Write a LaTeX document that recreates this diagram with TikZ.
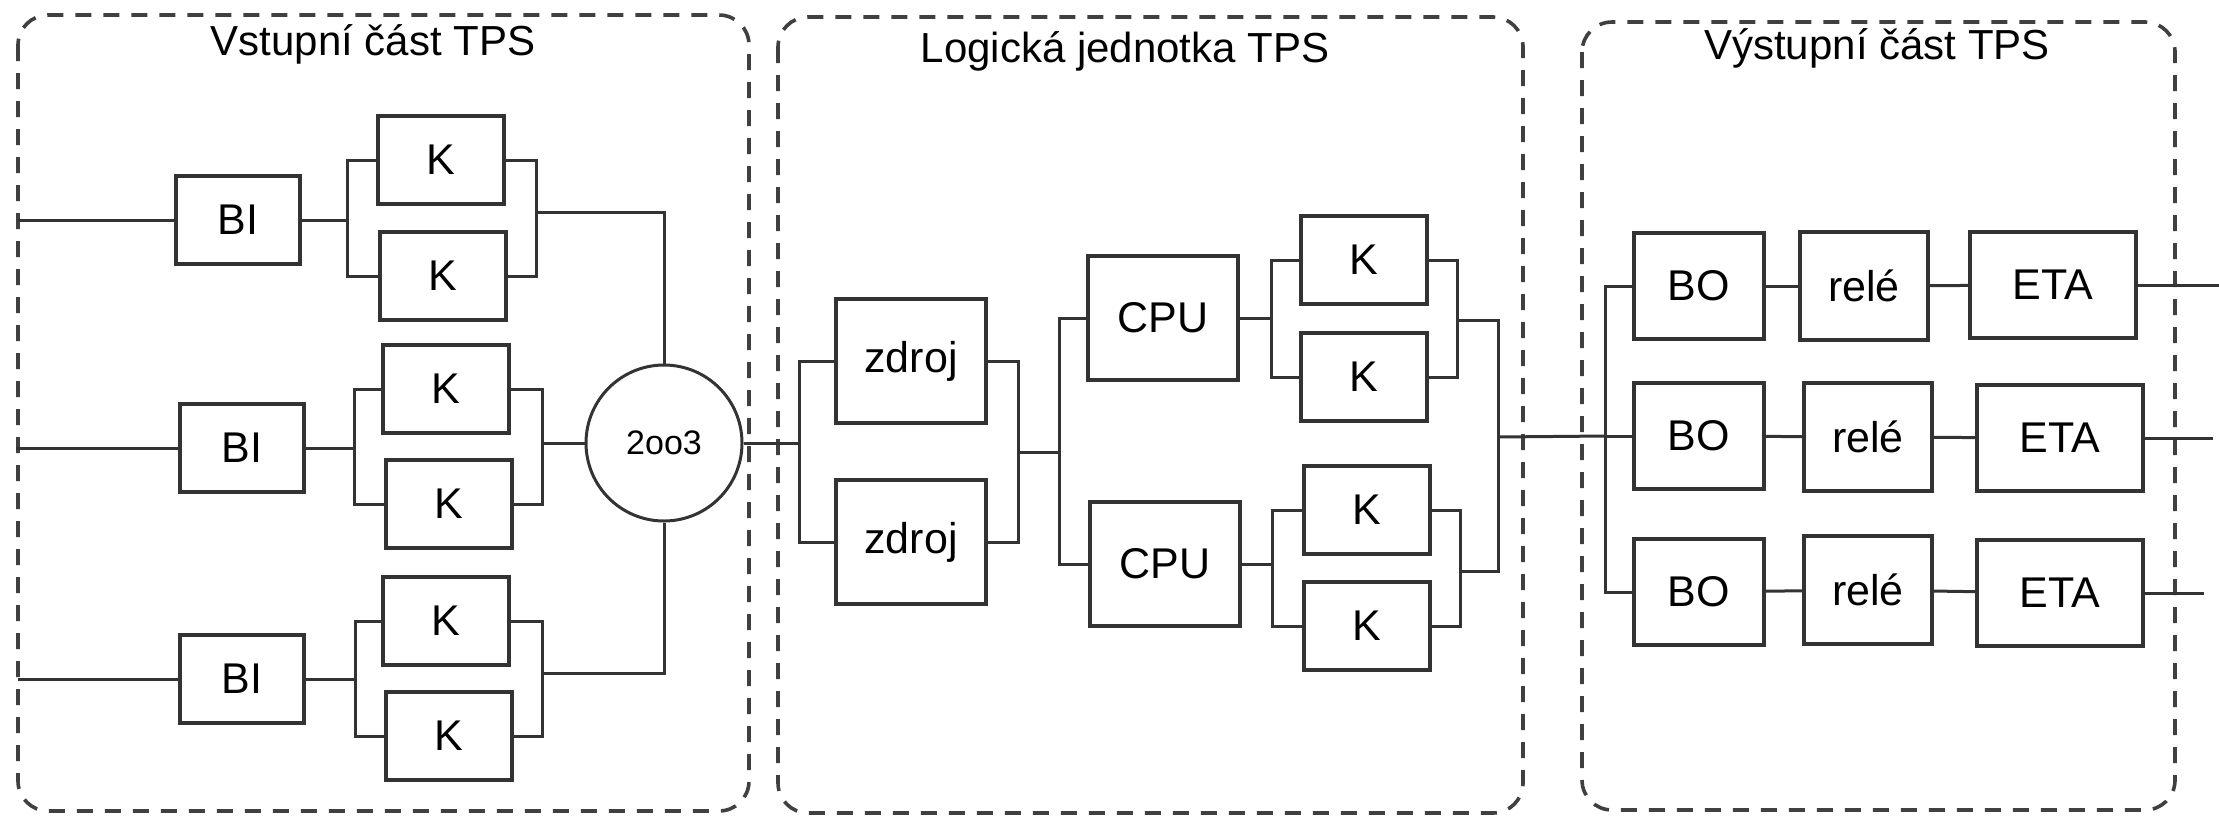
\documentclass[tikz,border=0pt]{standalone}
\usepackage{fontspec}
\setmainfont{Liberation Sans}
\begin{document}
\begin{tikzpicture}[x=0.5pt,y=-0.5pt,
  blk/.style={draw=black!80, line width=1.7pt, fill=white, inner sep=0pt, font=\fontsize{21.5}{24}\selectfont},
  kbox/.style={blk, minimum width=63pt, minimum height=44pt},
  bibox/.style={blk, minimum width=62pt, minimum height=44pt},
  bigbox/.style={blk, minimum width=75pt, minimum height=62pt},
  bobox/.style={blk, minimum width=65pt, minimum height=53pt},
  relebox/.style={blk, minimum width=64pt, minimum height=54pt},
  etabox/.style={blk, minimum width=83pt, minimum height=53pt},
  votebox/.style={draw=black!80, line width=1.5pt, circle, fill=white, inner sep=0pt, minimum size=78pt, font=\fontsize{17}{20}\selectfont},
  wire/.style={draw=black!80, line width=1.5pt},
  group/.style={draw=black!75, line width=1.8pt, dash pattern=on 8pt off 6pt, rounded corners=15pt},
  ttl/.style={inner sep=0pt, font=\fontsize{21}{24}\selectfont}
]
\useasboundingbox (0,0) rectangle (2219,815);

% groups
\draw[group] (18,15) rectangle (749,811);
\draw[group] (778,17) rectangle (1523,813);
\draw[group] (1582,22) rectangle (2175,810);
\node[ttl] (t1) at (373,44) {Vstupní část TPS};
\node[ttl] (t2) at (1125,51) {Logická jednotka TPS};
\node[ttl] (t3) at (1877,48) {Výstupní část TPS};

% input part
\node[bibox] (BI1) at (238,220) {BI};
\node[bibox] (BI2) at (242,448) {BI};
\node[bibox] (BI3) at (242,679) {BI};
\node[kbox] (K1) at (441,160) {K};
\node[kbox] (K2) at (443,276) {K};
\node[kbox] (K3) at (446,389) {K};
\node[kbox] (K4) at (449,504) {K};
\node[kbox] (K5) at (446,621) {K};
\node[kbox] (K6) at (449,736) {K};
\node[votebox] (C) at (664,443) {2oo3};

\coordinate (in1) at (18,220);
\coordinate (in2) at (16,448);
\coordinate (in3) at (18,679);
\coordinate (b1l) at (347,220);
\coordinate (b2l) at (354,448);
\coordinate (b3l) at (355,679);
\coordinate (b1r) at (536,212);
\coordinate (b2r) at (542,443);
\coordinate (b3r) at (542,673);

\draw[wire] (in1) -- (BI1);
\draw[wire] (in2) -- (BI2);
\draw[wire] (in3) -- (BI3);
\draw[wire] (BI1) -- (b1l);
\draw[wire] (BI2) -- (b2l);
\draw[wire] (BI3) -- (b3l);
\draw[wire] (K1.west) -| (b1l) |- (K2.west);
\draw[wire] (K3.west) -| (b2l) |- (K4.west);
\draw[wire] (K5.west) -| (b3l) |- (K6.west);
\draw[wire] (K1.east) -| (b1r) |- (K2.east);
\draw[wire] (K3.east) -| (b2r) |- (K4.east);
\draw[wire] (K5.east) -| (b3r) |- (K6.east);
\draw[wire] (b1r) -| (C.north);
\draw[wire] (b2r) -- (C.west);
\draw[wire] (b3r) -| (C.south);

% logic unit
\node[bigbox] (Z1) at (911,361) {zdroj};
\node[bigbox] (Z2) at (911,542) {zdroj};
\node[bigbox] (CPU1) at (1163,318) {CPU};
\node[bigbox] (CPU2) at (1165,564) {CPU};
\node[kbox] (K7) at (1364,260) {K};
\node[kbox] (K8) at (1364,377) {K};
\node[kbox] (K9) at (1367,510) {K};
\node[kbox] (K10) at (1367,626) {K};

\coordinate (zl) at (799,443);
\coordinate (zr) at (1018,452);
\coordinate (cl) at (1059,452);
\coordinate (k1l) at (1271,318);
\coordinate (k2l) at (1272,564);
\coordinate (k1r) at (1457,320);
\coordinate (k2r) at (1460,571);
\coordinate (ol) at (1498,437);

\draw[wire] (C.east) -- (zl);
\draw[wire] (Z1.west) -| (zl) |- (Z2.west);
\draw[wire] (Z1.east) -| (zr) |- (Z2.east);
\draw[wire] (zr) -- (cl);
\draw[wire] (CPU1.west) -| (cl) |- (CPU2.west);
\draw[wire] (CPU1) -- (k1l);
\draw[wire] (CPU2) -- (k2l);
\draw[wire] (K7.west) -| (k1l) |- (K8.west);
\draw[wire] (K9.west) -| (k2l) |- (K10.west);
\draw[wire] (K7.east) -| (k1r) |- (K8.east);
\draw[wire] (K9.east) -| (k2r) |- (K10.east);
\draw[wire] (k1r) -| (ol);
\draw[wire] (k2r) -| (ol);

% output part
\node[bobox] (BO1) at (1699,286) {BO};
\node[bobox] (BO2) at (1699,436) {BO};
\node[bobox] (BO3) at (1699,592) {BO};
\node[relebox] (R1) at (1864,286) {relé};
\node[relebox] (R2) at (1868,437) {relé};
\node[relebox] (R3) at (1868,590) {relé};
\node[etabox] (E1) at (2053,285) {ETA};
\node[etabox] (E2) at (2060,438) {ETA};
\node[etabox] (E3) at (2060,593) {ETA};

\coordinate (bol) at (1605,436);
\coordinate (o1) at (2219,285);
\coordinate (o2) at (2213,438);
\coordinate (o3) at (2204,593);

\draw[wire] (ol) -- (bol);
\draw[wire] (BO1.west) -| (bol) |- (BO3.west);
\draw[wire] (bol) -- (BO2.west);
\draw[wire] (BO1) -- (R1);
\draw[wire] (BO2) -- (R2);
\draw[wire] (BO3) -- (R3);
\draw[wire] (R1) -- (E1);
\draw[wire] (R2) -- (E2);
\draw[wire] (R3) -- (E3);
\draw[wire] (E1) -- (o1);
\draw[wire] (E2) -- (o2);
\draw[wire] (E3) -- (o3);
\end{tikzpicture}
\end{document}
